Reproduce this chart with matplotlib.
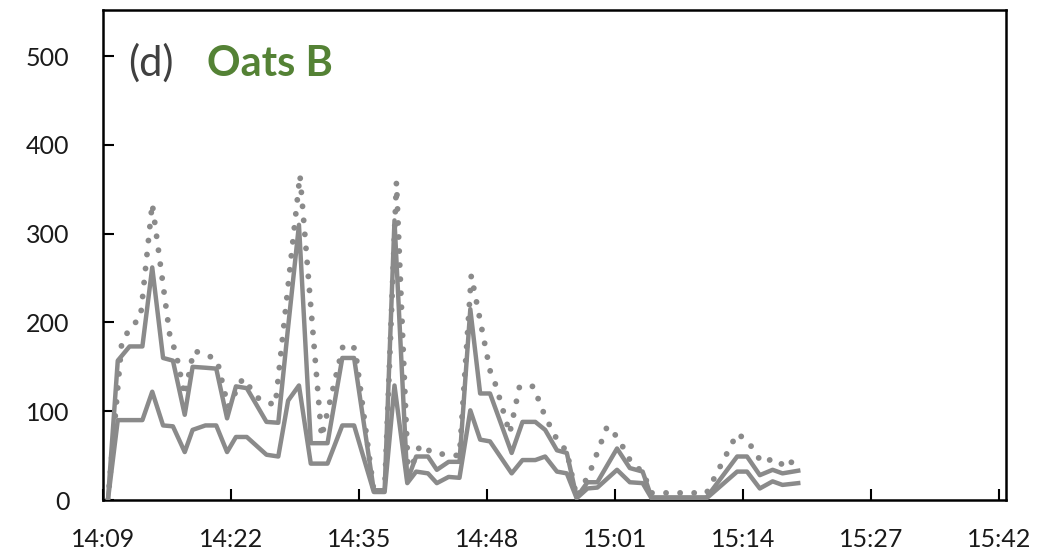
import matplotlib
matplotlib.use("Agg")
import matplotlib.pyplot as plt

# ---- data (minutes after 14:09) ----
t_solid = [0.5, 1.5, 2.7, 4.0, 5.0, 6.1, 7.1, 8.3, 9.1, 10.4, 11.5, 12.6, 13.5, 14.6,
           16.6, 17.8, 18.8, 19.9, 21.1, 22.8, 24.3, 25.5, 27.5, 28.6, 29.6, 30.9,
           31.8, 33.0, 33.9, 35.1, 36.2, 37.3, 38.3, 39.3, 41.5, 42.6, 43.9, 44.9,
           46.1, 47.1, 48.1, 49.2, 50.2, 52.2, 53.5, 54.8, 55.7, 61.3, 64.4, 65.4,
           66.7, 68.0, 69.0, 70.6]
upper = [0, 157, 173, 173, 262, 160, 157, 96, 150, 149, 148, 92, 128, 126,
         88, 87, 195, 310, 64, 64, 160, 160, 11, 11, 315, 22,
         49, 49, 34, 43, 43, 215, 120, 120, 53, 88, 88, 79,
         56, 53, 3, 20, 20, 58, 36, 32, 3, 3, 49, 49,
         28, 34, 30, 33]
lower = [0, 90, 90, 90, 122, 84, 83, 54, 79, 84, 84, 54, 71, 71,
         51, 49, 112, 129, 41, 41, 84, 84, 9, 9, 129, 19,
         32, 30, 19, 26, 25, 101, 68, 66, 30, 45, 45, 49,
         32, 30, 2, 13, 14, 34, 20, 19, 2, 2, 32, 32,
         13, 21, 17, 19]

t_dotted = [0.5, 1.9, 2.8, 3.8, 5.0, 6.8, 7.4, 8.3, 9.2, 10.5, 11.6, 12.7, 14.2,
            15.9, 17.5, 20.0, 22.2, 24.4, 25.6, 27.5, 28.6, 29.8, 31.0, 32.2,
            33.5, 35.0, 36.2, 37.4, 39.3, 39.9, 41.3, 42.3, 43.7, 44.9, 46.2,
            47.1, 48.1, 49.4, 51.2, 52.3, 53.7, 54.8, 55.7, 61.3, 64.4, 65.5,
            66.9, 68.2, 69.4, 70.1, 70.6]
dotted = [0, 177, 195, 205, 334, 184, 166, 118, 168, 164, 157, 105, 137,
          113, 107, 366, 71, 175, 171, 10, 10, 358, 28, 62,
          53, 51, 50, 253, 146, 129, 75, 128, 128, 94, 66,
          55, 3, 30, 83, 70, 41, 32, 8, 8, 75, 66,
          42, 47, 36, 45, 38]

x_ticks = [0, 13, 26, 39, 52, 65, 78, 91]
x_labels = ["14:09", "14:22", "14:35", "14:48", "15:01", "15:14", "15:27", "15:42"]
y_ticks = [0, 100, 200, 300, 400, 500]

# ---- figure ----
plt.rcParams['font.family'] = ['Lato', 'DejaVu Sans']
W, H = 1061, 556
fig = plt.figure(figsize=(W / 100, H / 100), dpi=100)
ax = fig.add_axes([103 / W, 1 - 500 / H, (1006 - 103) / W, (500 - 10) / H])

gray = '#8a8a8a'
ax.plot(t_dotted, dotted, color=gray, lw=4.2, linestyle=(0, (0.01, 2.4)),
        dash_capstyle='round', zorder=2)
ax.plot(t_solid, upper, color=gray, lw=3.2, solid_joinstyle='round', zorder=3)
ax.plot(t_solid, lower, color=gray, lw=3.2, solid_joinstyle='round', zorder=3)

ax.set_xlim(0, 91.7)
ax.set_ylim(0, 552)
ax.set_xticks(x_ticks)
ax.set_xticklabels(x_labels)
ax.set_yticks(y_ticks)
ax.tick_params(axis='both', direction='in', length=8, width=1.5, colors='black',
               labelsize=18, labelcolor='#1a1a1a')
ax.tick_params(axis='x', pad=20)
ax.tick_params(axis='y', pad=24)
for s in ax.spines.values():
    s.set_linewidth(1.8)
    s.set_color('black')

fig.text(128 / W, 1 - 76 / H, "(d)", fontsize=30, color='#404040', va='baseline')
fig.text(207 / W, 1 - 76 / H, "Oats B", fontsize=30, color='#548235',
         fontweight='bold', va='baseline')

fig.savefig("out.png", dpi=100, facecolor='white')
